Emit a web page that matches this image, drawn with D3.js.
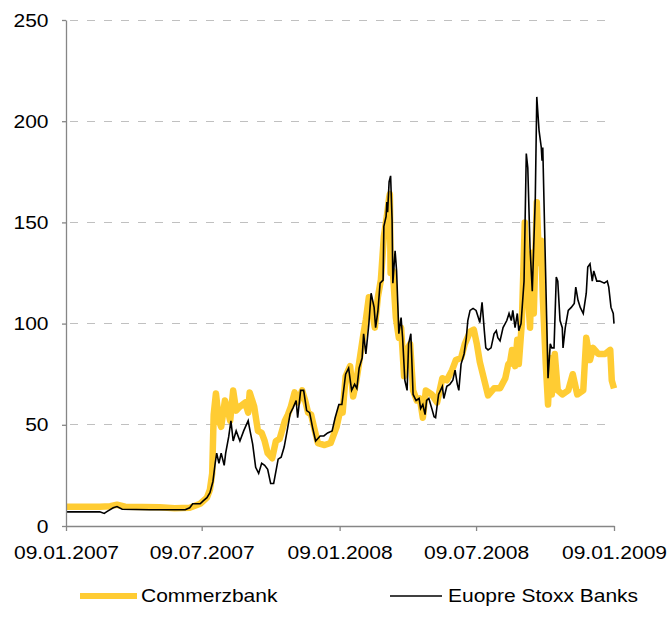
<!DOCTYPE html>
<html>
<head>
<meta charset="utf-8">
<script src="https://cdn.jsdelivr.net/npm/d3@7"></script>
<style>
  html, body { margin: 0; padding: 0; background: #ffffff; }
  svg { display: block; font-family: "Liberation Sans", Arial, sans-serif; }
</style>
</head>
<body>
<svg id="chart" width="668" height="631"></svg>
<script>
// ---------- data ----------
const seriesNames = ["Commerzbank", "Euopre Stoxx Banks"];

const commerzDates = [
  "2007-01-09","2007-02-23","2007-03-09","2007-03-18","2007-03-29","2007-05-14","2007-06-03","2007-06-23",
  "2007-07-07","2007-07-16","2007-07-20","2007-07-23","2007-07-25","2007-07-28","2007-08-01","2007-08-04",
  "2007-08-09","2007-08-13","2007-08-16","2007-08-20","2007-08-24","2007-08-29","2007-09-05","2007-09-09",
  "2007-09-11","2007-09-17","2007-09-22","2007-09-27","2007-10-01","2007-10-05","2007-10-11","2007-10-16",
  "2007-10-21","2007-10-28","2007-11-01","2007-11-05","2007-11-10","2007-11-14","2007-11-20","2007-11-24",
  "2007-11-28","2007-12-02","2007-12-07","2007-12-11","2007-12-20","2007-12-28","2008-01-05","2008-01-11",
  "2008-01-13","2008-01-17","2008-01-23","2008-01-27","2008-01-31","2008-02-04","2008-02-09","2008-02-13",
  "2008-02-17","2008-02-21","2008-02-25","2008-02-29","2008-03-04","2008-03-08","2008-03-12","2008-03-15",
  "2008-03-16","2008-03-17","2008-03-20","2008-03-24","2008-03-28","2008-03-31","2008-04-04","2008-04-08",
  "2008-04-12","2008-04-16","2008-04-21","2008-04-25","2008-04-29","2008-05-03","2008-05-11","2008-05-18",
  "2008-05-25","2008-05-31","2008-06-07","2008-06-12","2008-06-19","2008-06-24","2008-07-01","2008-07-06",
  "2008-07-10","2008-07-14","2008-07-20","2008-07-25","2008-08-02","2008-08-10","2008-08-17","2008-08-21",
  "2008-08-23","2008-08-26","2008-08-30","2008-09-02","2008-09-04","2008-09-08","2008-09-12","2008-09-15",
  "2008-09-19","2008-09-22","2008-09-24","2008-09-28","2008-10-01","2008-10-04","2008-10-06","2008-10-10",
  "2008-10-13","2008-10-16","2008-10-18","2008-10-22","2008-10-26","2008-11-01","2008-11-09","2008-11-15",
  "2008-11-21","2008-11-29","2008-12-03","2008-12-08","2008-12-12","2008-12-19","2008-12-28","2009-01-04",
  "2009-01-06","2009-01-09"
];
const commerzValues = [
  9.5,9.5,9.8,10.5,9.5,9.3,8.8,9,
  11,14,18,26,55,65.5,52,49,
  62,57,52,67,57,59,61,56,
  66,59,47,46,42,36,33.5,42,
  43,52,55,59,66,61,67,62,
  56,55,47,41,40,41,49,59,
  56,74,79,64,71,80.5,93,102,
  113,107,98,113,121.5,143,153,162,
  164,125,126,103,93,98,74,87,
  90,67,62,63,53.5,67,65,61,
  73,72,77,82,83,90,96,97,
  90,81,72,64.5,68,68,73,80,
  80,87,79,92,80,100,150,121,
  98,135,105,160,130,141,113,80,
  60,83,65,85,67,65,67,75,
  65,67,93,82,88,85,85,87,
  72,68
];

const stoxxDates = [
  "2007-01-09","2007-02-23","2007-03-01","2007-03-05","2007-03-13","2007-03-18","2007-03-25","2007-05-01",
  "2007-06-17","2007-06-23","2007-06-27","2007-07-07","2007-07-11","2007-07-16","2007-07-20","2007-07-24",
  "2007-07-27","2007-07-29","2007-08-01","2007-08-04","2007-08-08","2007-08-10","2007-08-14","2007-08-17",
  "2007-08-20","2007-08-24","2007-08-29","2007-09-03","2007-09-09","2007-09-11","2007-09-15","2007-09-19",
  "2007-09-23","2007-09-27","2007-10-01","2007-10-05","2007-10-09","2007-10-13","2007-10-16","2007-10-19",
  "2007-10-23","2007-10-27","2007-10-31","2007-11-04","2007-11-08","2007-11-12","2007-11-14","2007-11-18",
  "2007-11-22","2007-11-26","2007-11-30","2007-12-04","2007-12-08","2007-12-14","2007-12-19","2007-12-24",
  "2007-12-30","2008-01-03","2008-01-08","2008-01-12","2008-01-17","2008-01-21","2008-01-25","2008-01-29",
  "2008-02-01","2008-02-04","2008-02-08","2008-02-10","2008-02-13","2008-02-17","2008-02-20","2008-02-24",
  "2008-02-26","2008-02-29","2008-03-03","2008-03-07","2008-03-08","2008-03-11","2008-03-12","2008-03-13",
  "2008-03-15","2008-03-17","2008-03-19","2008-03-20","2008-03-23","2008-03-25","2008-03-28","2008-03-31",
  "2008-04-02","2008-04-05","2008-04-08","2008-04-10","2008-04-13","2008-04-16","2008-04-20","2008-04-24",
  "2008-04-26","2008-04-29","2008-05-02","2008-05-04","2008-05-07","2008-05-11","2008-05-14","2008-05-16",
  "2008-05-20","2008-05-25","2008-05-27","2008-05-31","2008-06-04","2008-06-08","2008-06-11","2008-06-14",
  "2008-06-16","2008-06-19","2008-06-23","2008-06-26","2008-06-28","2008-07-01","2008-07-05","2008-07-09",
  "2008-07-12","2008-07-14","2008-07-17","2008-07-20","2008-07-22","2008-07-25","2008-07-29","2008-08-02",
  "2008-08-05","2008-08-07","2008-08-10","2008-08-14","2008-08-19","2008-08-22","2008-08-25","2008-08-27",
  "2008-08-30","2008-09-02","2008-09-04","2008-09-07","2008-09-11","2008-09-14","2008-09-16","2008-09-19",
  "2008-09-22","2008-09-26","2008-09-28","2008-10-01","2008-10-04","2008-10-05","2008-10-06","2008-10-09",
  "2008-10-13","2008-10-16","2008-10-18","2008-10-21","2008-10-24","2008-10-26","2008-10-29","2008-11-01",
  "2008-11-02","2008-11-05","2008-11-09","2008-11-13","2008-11-17","2008-11-19","2008-11-22","2008-11-25",
  "2008-11-29","2008-12-03","2008-12-05","2008-12-08","2008-12-11","2008-12-13","2008-12-17","2008-12-21",
  "2008-12-27","2008-12-31","2009-01-02","2009-01-05","2009-01-08","2009-01-09"
];
const stoxxValues = [
  7,7,6.2,7.2,9,9.6,8.3,8,
  8,9,11,11,12.4,14,16.5,22,
  31,36,31,36,30,36,44,52,
  42,47,42,47,52,48,40.5,29,
  26,31,30,28,21,21,27,33,
  34,39,47,55.5,58.5,62,53.5,67,
  67,57,56,48.5,42,44.5,44.5,46,
  47,53.5,60,60,75,78,67,70,
  68,78,83,95,85,100,115,108,
  98,106,120,121.5,148,153,160,155,
  170,173,151,120,136,126,95,103,
  93,72,67,90,95,65,62,63,
  58,60,55,62,63,58,54,53.5,
  65,69,63,69,70,72,77,70,
  67,80,85,93,101.5,106.5,107.5,106.5,
  103,100.5,110.5,96.5,88,87,88,95,
  96.5,93,91.5,98,101.5,105,101.5,106.5,
  98,105,96.5,100,121,184,177,137.5,
  116,162,212,195.5,187,180.5,187,137.5,
  73,90,88,88,123,121,101.5,98,
  88,98,106.5,108,110,118,111.5,108,
  105,115,128,129.5,121,126,121,121,
  120,121,118,108,105,100
];

const yTicks = [0, 50, 100, 150, 200, 250];
const xTickLabels = ["09.01.2007", "09.07.2007", "09.01.2008", "09.07.2008", "09.01.2009"];

// ---------- chart ----------
const svg = d3.select("#chart");
const parseISO = d3.timeParse("%Y-%m-%d");
const parseDE = d3.timeParse("%d.%m.%Y");
const fmtDE = d3.timeFormat("%d.%m.%Y");

const xTickDates = xTickLabels.map(parseDE);
const x = d3.scaleTime()
  .domain([xTickDates[0], xTickDates[xTickDates.length - 1]])
  .range([66, 614]);
const y = d3.scaleLinear().domain([0, 250]).range([526, 20]);

const axisColor = "#868686";
const fontSize = 17.5;
const stretch = 1.2;

// gridlines
svg.append("g").selectAll("line")
  .data(yTicks.filter(v => v > 0))
  .join("line")
  .attr("x1", x.range()[0] + 1).attr("x2", x.range()[1])
  .attr("y1", d => y(d)).attr("y2", d => y(d))
  .attr("stroke", "#c0c0c0").attr("stroke-width", 1)
  .attr("stroke-dasharray", "8,9")
  .attr("stroke-dashoffset", -3)
  .attr("shape-rendering", "crispEdges");

const line = d3.line().x(d => x(d.date)).y(d => y(d.value));

const commerz = commerzDates.map((d, i) => ({ date: parseISO(d), value: commerzValues[i] }));
const stoxx = stoxxDates.map((d, i) => ({ date: parseISO(d), value: stoxxValues[i] }));

svg.append("path").datum(commerz)
  .attr("d", line).attr("fill", "none")
  .attr("stroke", "#ffcc33").attr("stroke-width", 6.5)
  .attr("stroke-linejoin", "round").attr("stroke-linecap", "butt");

svg.append("path").datum(stoxx)
  .attr("d", line).attr("fill", "none")
  .attr("stroke", "#000000").attr("stroke-width", 1.6)
  .attr("stroke-linejoin", "miter");

// y axis
const yAxis = svg.append("g")
  .attr("transform", `translate(${x.range()[0]},0)`)
  .call(d3.axisLeft(y).tickValues(yTicks).tickSize(4).tickSizeOuter(0).tickFormat(d3.format("d")));
// x axis
const xAxis = svg.append("g")
  .attr("transform", `translate(0,${y(0)})`)
  .call(d3.axisBottom(x).tickValues(xTickDates).tickSize(5).tickSizeOuter(0).tickFormat(fmtDE));

[yAxis, xAxis].forEach(g => {
  g.select(".domain").attr("stroke", axisColor).attr("stroke-width", 1.3);
  g.selectAll(".tick line").attr("stroke", axisColor).attr("stroke-width", 1.3);
  g.selectAll(".tick text")
    .attr("fill", "#000")
    .attr("font-size", fontSize)
    .attr("font-family", "'Liberation Sans', Arial, sans-serif");
});

yAxis.selectAll(".tick text")
  .attr("x", 0).attr("dy", null)
  .attr("transform", `translate(-17.5,6) scale(${stretch},1)`);

xAxis.selectAll(".tick text")
  .attr("y", 0).attr("dy", null)
  .attr("transform", `translate(0,33) scale(${stretch},1)`);

// legend
const legend = svg.append("g");
const legendItems = [
  { name: seriesNames[0], x1: 80, x2: 137, tx: 141, color: "#ffcc33", width: 6 },
  { name: seriesNames[1], x1: 390, x2: 442, tx: 448, color: "#000000", width: 1.6 }
];
legendItems.forEach(it => {
  legend.append("line")
    .attr("x1", it.x1).attr("x2", it.x2).attr("y1", 596).attr("y2", 596)
    .attr("stroke", it.color).attr("stroke-width", it.width);
  legend.append("text")
    .attr("transform", `translate(${it.tx},602) scale(${stretch},1)`)
    .attr("font-size", fontSize)
    .attr("fill", "#000")
    .text(it.name);
});
</script>
</body>
</html>
